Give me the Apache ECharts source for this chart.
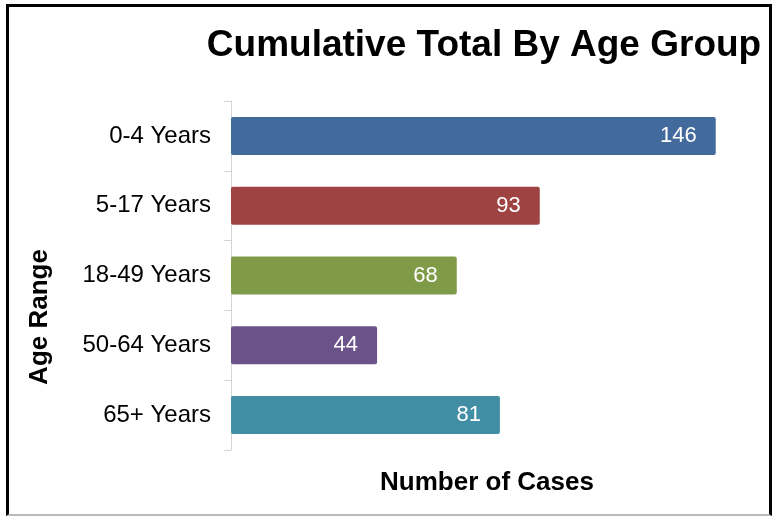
<!DOCTYPE html>
<html>
<head>
<meta charset="utf-8">
<script src="https://cdn.jsdelivr.net/npm/echarts@6/dist/echarts.min.js"></script>
<style>
html,body{margin:0;padding:0;background:#fff;}
#frame{position:absolute;left:6px;top:4px;width:766px;height:512px;border-left:3px solid #000;border-top:3px solid #000;border-right:3px solid #000;border-bottom:2px solid #bbb;box-sizing:border-box;}
#chart{position:absolute;left:0;top:0;width:774px;height:517px;}
</style>
</head>
<body>
<div id="frame"></div>
<div id="chart"></div>
<script>
const categories = ['0-4 Years', '5-17 Years', '18-49 Years', '50-64 Years', '65+ Years'];
const values = [146, 93, 68, 44, 81];
const colors = ['#436A9D', '#9E4341', '#7F9B48', '#6B5289', '#428EA5'];

const chart = echarts.init(document.getElementById('chart'));
chart.setOption({
  animation: false,
  title: {
    text: 'Cumulative Total By Age Group',
    left: 479, top: 22, textAlign: 'center',
    textStyle: {fontFamily: 'Liberation Sans, Arial', fontWeight: 'bold', fontSize: 37, color: '#000'}
  },
  grid: {left: 231, top: 101, width: 498, height: 349, containLabel: false},
  xAxis: {
    type: 'value', min: 0, max: 150,
    axisLine: {show: false}, axisTick: {show: false}, axisLabel: {show: false}, splitLine: {show: false},
    name: 'Number of Cases', nameLocation: 'middle', nameGap: 20,
    nameTextStyle: {fontFamily: 'Liberation Sans, Arial', fontWeight: 'bold', fontSize: 26, color: '#000', padding: [0, 0, 0, 14]}
  },
  yAxis: {
    type: 'category', data: categories, inverse: true,
    axisLine: {show: true, lineStyle: {color: '#d4d4d4', width: 1}},
    axisTick: {show: true, inside: false, length: 7, lineStyle: {color: '#d4d4d4'}},
    axisLabel: {fontFamily: 'Liberation Sans, Arial', fontSize: 24, color: '#000', margin: 20}
  },
  graphic: [{
    type: 'text', rotation: Math.PI / 2, x: 40, y: 317,
    style: {text: 'Age Range', fontFamily: 'Liberation Sans, Arial', fontWeight: 'bold', fontSize: 26, fill: '#000', textAlign: 'center', textVerticalAlign: 'middle'}
  }],
  series: [{
    type: 'bar', barWidth: 38,
    data: values.map((v, i) => ({value: v, itemStyle: {color: colors[i], borderRadius: 2}})),
    label: {
      show: true, position: 'insideRight', distance: 19,
      fontFamily: 'Liberation Sans, Arial', fontSize: 22, color: '#fff'
    }
  }]
});
</script>
</body>
</html>
